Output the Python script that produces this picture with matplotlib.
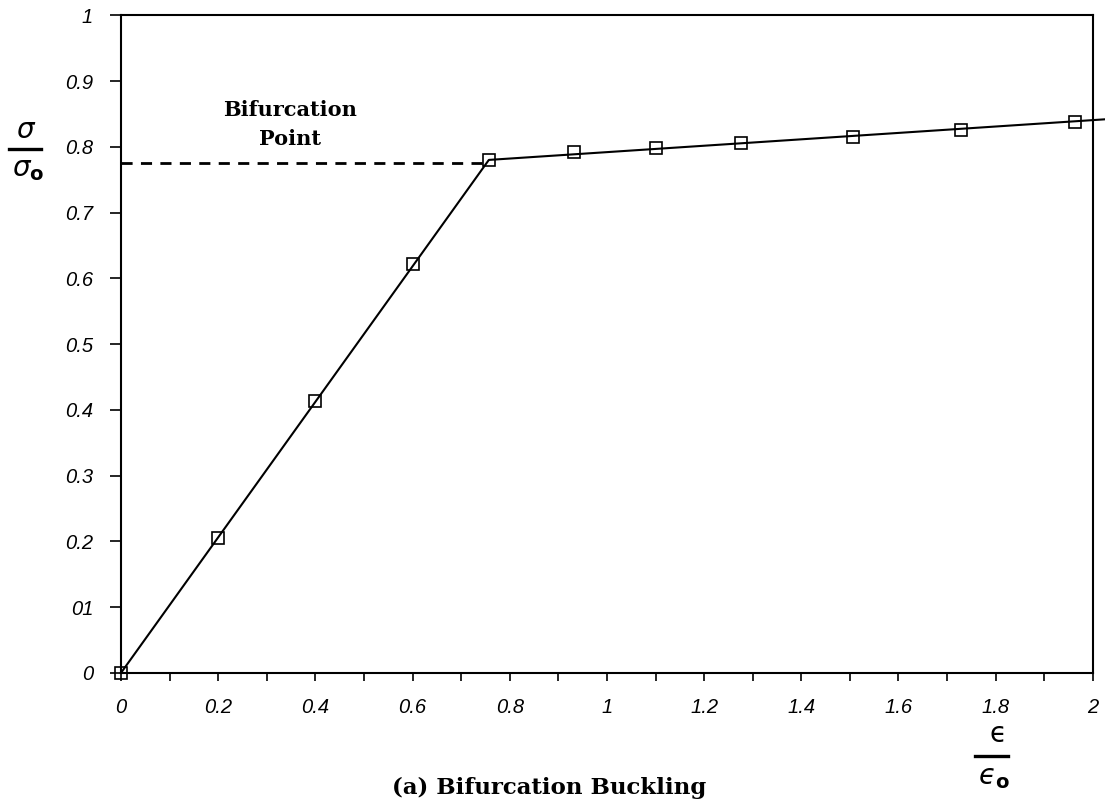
import matplotlib
matplotlib.use("Agg")
import matplotlib.pyplot as plt
import numpy as np

# data
strain = [0.0, 0.2, 0.4, 0.6, 0.757, 0.932, 1.10, 1.276, 1.507, 1.728, 1.963]
stress = [0.0, 0.205, 0.413, 0.622, 0.780, 0.792, 0.798, 0.805, 0.815, 0.825, 0.837]
line_x = [0.0, 0.757, 2.03]
line_y = [0.0, 0.780, 0.842]
dash_x = [0.0, 0.757]
dash_y = [0.775, 0.775]
xticks = [0, 0.2, 0.4, 0.6, 0.8, 1, 1.2, 1.4, 1.6, 1.8, 2]
xtick_labels = ["0", "0.2", "0.4", "0.6", "0.8", "1", "1.2", "1.4", "1.6", "1.8", "2"]
yticks = [0, 0.1, 0.2, 0.3, 0.4, 0.5, 0.6, 0.7, 0.8, 0.9, 1]
ytick_labels = ["0", "01", "0.2", "0.3", "0.4", "0.5", "0.6", "0.7", "0.8", "0.9", "1"]

fig = plt.figure(figsize=(11.05, 8.02), dpi=100)
ax = fig.add_axes([0.1095, 0.161, 0.8795, 0.820])

ax.plot(line_x, line_y, color="black", lw=1.5, clip_on=False)
ax.plot(strain, stress, linestyle="none", marker="s", markersize=9,
        markerfacecolor="none", markeredgecolor="black", markeredgewidth=1.2, clip_on=False)
ax.plot(dash_x, dash_y, color="black", lw=2, linestyle=(0, (4, 3)))

ax.set_xlim(0, 2)
ax.set_ylim(0, 1)
ax.set_xticks(xticks)
ax.set_xticklabels(xtick_labels)
ax.set_xticks(np.arange(0.1, 2.0, 0.2), minor=True)
ax.set_yticks(yticks)
ax.set_yticklabels(ytick_labels)

for lab in ax.get_xticklabels() + ax.get_yticklabels():
    lab.set_fontstyle("italic")
    lab.set_fontsize(14.5)
    lab.set_family("Liberation Sans")

ax.tick_params(axis="x", which="both", direction="out", length=6, width=1.2, pad=12)
ax.tick_params(axis="y", which="both", direction="out", length=8, width=1.2, pad=12)
for s in ax.spines.values():
    s.set_linewidth(1.5)

# axis labels as fractions
serif_bold = dict(family="DejaVu Serif", fontweight="bold")
fig.text(0.024, 0.838, r"$\sigma$", fontsize=20, ha="center", va="center")
fig.lines.append(plt.Line2D([0.008, 0.037], [0.814, 0.814], transform=fig.transFigure, color="black", lw=2.4))
fig.text(0.025, 0.789, r"$\sigma_{\mathbf{o}}$", fontsize=20, ha="center", va="center")

fig.text(0.903, 0.0845, "\u03f5", fontsize=20, ha="center", va="center", family="DejaVu Sans")
fig.lines.append(plt.Line2D([0.882, 0.912], [0.057, 0.057], transform=fig.transFigure, color="black", lw=2.4))
fig.text(0.899, 0.031, "$\u03f5_{\\mathbf{o}}$", fontsize=20, ha="center", va="center")

ax.text(0.348, 0.834, "Bifurcation\nPoint", ha="center", va="center", fontsize=15,
        linespacing=1.55, **serif_bold)
fig.text(0.497, 0.018, "(a) Bifurcation Buckling", ha="center", va="center", fontsize=16.5, **serif_bold)

fig.savefig("out.png", dpi=100)
